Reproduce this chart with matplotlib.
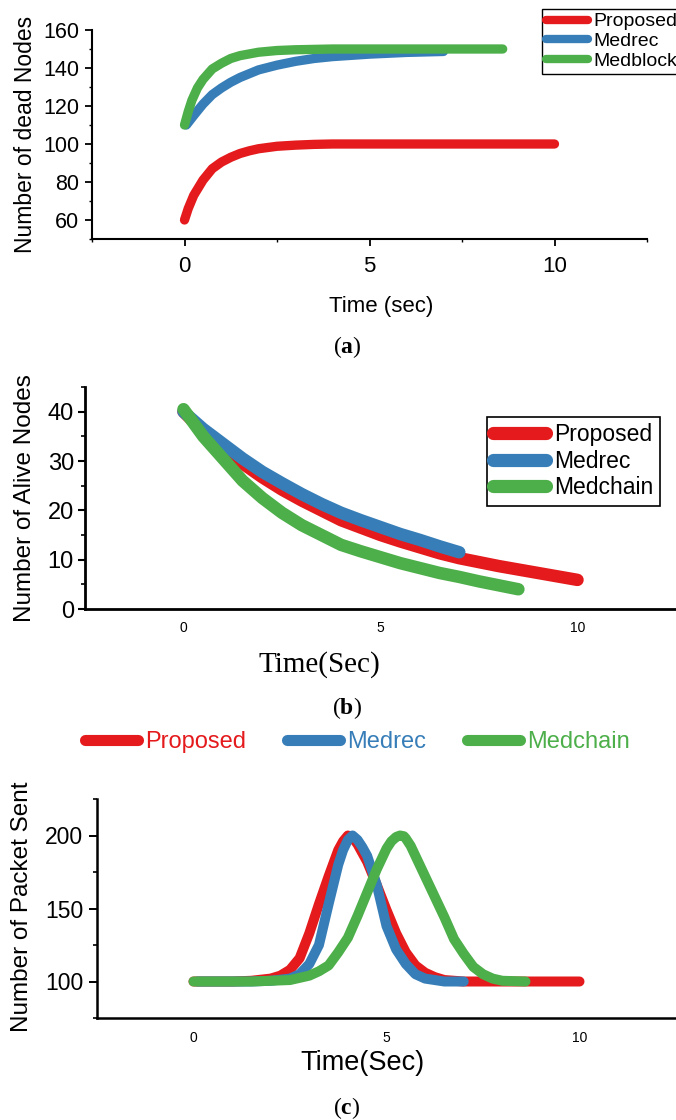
import matplotlib
matplotlib.use("Agg")
import matplotlib.pyplot as plt
from matplotlib.ticker import MultipleLocator, FixedLocator

plt.rcParams['font.family'] = ['Liberation Sans', 'DejaVu Sans']
plt.rcParams['mathtext.fontset'] = 'custom'
plt.rcParams['mathtext.rm'] = 'Liberation Serif'
plt.rcParams['mathtext.bf'] = 'Liberation Serif:bold'
plt.rcParams['lines.solid_capstyle'] = 'round'
plt.rcParams['lines.solid_joinstyle'] = 'round'

# ---------------- data ----------------
series_names = ['Proposed', 'Medrec']
name_a3 = 'Medblock'
name_bc3 = 'Medchain'
colors = ['#E41A1C', '#377EB8', '#4DAF4A']

# (a) Number of dead nodes
a_prop_t = [0, 0.1, 0.25, 0.5, 0.75, 1, 1.25, 1.5, 1.75, 2, 2.5, 3, 3.5, 4, 5, 6, 7, 8, 9, 10]
a_prop_v = [60, 66, 73, 81, 87, 90.5, 93, 95, 96.4, 97.5, 98.8, 99.4, 99.8, 100, 100, 100, 100, 100, 100, 100]
a_medrec_t = [0.05, 0.15, 0.25, 0.5, 0.75, 1, 1.25, 1.5, 2, 2.5, 3, 3.5, 4, 5, 6, 7]
a_medrec_v = [110, 112.5, 115, 121, 126, 129.5, 132.5, 135, 139, 141.5, 143.5, 145, 146, 147.3, 148.2, 148.7]
a_medblock_t = [0, 0.1, 0.2, 0.35, 0.5, 0.75, 1, 1.25, 1.5, 2, 2.5, 3, 4, 5, 6, 7, 8, 8.6]
a_medblock_v = [110, 117, 123, 129.5, 134, 139.5, 142.5, 145, 146.5, 148.3, 149.2, 149.6, 150, 150, 150, 150, 150, 150]

# (b) Number of alive nodes
b_prop_t = [0, 0.5, 1, 1.5, 2, 2.5, 3, 3.5, 4, 4.5, 5, 5.5, 6, 6.5, 7, 7.5, 8, 8.5, 9, 9.5, 10]
b_prop_v = [40, 36, 32.5, 29.5, 26.7, 24.2, 22, 20, 18, 16.5, 15, 13.7, 12.5, 11.3, 10.3, 9.5, 8.7, 8, 7.3, 6.6, 5.9]
b_medrec_t = [0, 0.5, 1, 1.5, 2, 2.5, 3, 3.5, 4, 4.5, 5, 5.5, 6, 6.5, 7]
b_medrec_v = [40, 36.5, 33.5, 30.5, 27.8, 25.5, 23.3, 21.3, 19.5, 18, 16.6, 15.2, 14, 12.7, 11.5]
b_medchain_t = [0, 0.5, 1, 1.5, 2, 2.5, 3, 3.5, 4, 4.5, 5, 5.5, 6, 6.5, 7, 7.5, 8, 8.5]
b_medchain_v = [40.5, 35, 30.5, 26, 22.5, 19.5, 17, 15, 13, 11.7, 10.5, 9.3, 8.3, 7.3, 6.5, 5.6, 4.8, 4]

# (c) Number of packets sent
c_prop_t = [0, 0.5, 1, 1.5, 2, 2.25, 2.5, 2.75, 3, 3.25, 3.5, 3.75, 3.875, 4.0, 4.125, 4.25, 4.5, 4.75, 5,
            5.25, 5.5, 5.75, 6, 6.25, 6.5, 7, 8, 9, 10]
c_prop_v = [100, 100, 100, 100.5, 102, 104, 108, 116, 133, 153, 172, 190, 196, 200, 198.5, 194, 182, 166, 149,
            133, 120, 111, 106, 103, 101, 100, 100, 100, 100]
c_medrec_t = [0.1, 0.5, 1, 1.5, 2, 2.5, 2.75, 3, 3.25, 3.5, 3.75, 3.875, 4, 4.12, 4.25, 4.375, 4.5, 4.75, 5,
              5.25, 5.5, 5.75, 6, 6.5, 7]
c_medrec_v = [100, 100, 100, 100, 100.5, 102, 105, 112, 125, 153, 180, 190, 197, 200, 197, 192, 186, 166, 138,
              122, 112, 105, 102, 100, 100]
c_medchain_t = [0, 0.5, 1, 1.5, 2, 2.5, 3, 3.25, 3.5, 3.75, 4, 4.25, 4.5, 4.75, 5, 5.125, 5.25, 5.35, 5.45,
                5.5, 5.625, 5.75, 6, 6.25, 6.5, 6.75, 7, 7.25, 7.5, 7.75, 8, 8.6]
c_medchain_v = [100, 100, 100, 100, 100.5, 101, 104, 107, 111, 120, 130, 145, 161, 177, 191, 196, 199, 200, 199.5,
                198, 193, 186, 172, 158, 144, 129, 119, 110, 105, 102, 100.5, 100]

x_ticks = [0, 5, 10]
x_ticklabels = ['0', '5', '10']
a_yticks = [60, 80, 100, 120, 140, 160]
b_yticks = [0, 10, 20, 30, 40]
c_yticks = [100, 150, 200]

# ---------------- figure ----------------
W, H = 676, 1120
fig = plt.figure(figsize=(W / 100, H / 100), dpi=100)


def ax_rect(left, top, right, bottom):
    return [left / W, 1 - bottom / H, (right - left) / W, (bottom - top) / H]


def style(ax, lw):
    for s in ['top', 'right']:
        ax.spines[s].set_visible(False)
    for s in ['left', 'bottom']:
        ax.spines[s].set_linewidth(lw)
    ax.set_facecolor('none')


# ---- (a)
ax = fig.add_axes(ax_rect(92, 30, 647, 239))
style(ax, 1.5)
lw = 6.7
ax.plot(a_prop_t, a_prop_v, color=colors[0], lw=lw, label=series_names[0])
ax.plot(a_medrec_t, a_medrec_v, color=colors[1], lw=lw, label=series_names[1])
ax.plot(a_medblock_t, a_medblock_v, color=colors[2], lw=lw, label=name_a3)
ax.set_xlim(-2.5, 12.5)
ax.set_ylim(50, 160)
ax.set_xticks(x_ticks)
ax.set_xticklabels(x_ticklabels)
ax.xaxis.set_minor_locator(FixedLocator([-2.5, 2.5, 7.5, 12.5]))
ax.set_yticks(a_yticks)
ax.yaxis.set_minor_locator(MultipleLocator(10))
ax.tick_params(axis='x', which='major', direction='out', length=5, width=1.3, labelsize=16, pad=7)
ax.tick_params(axis='y', which='major', direction='out', length=5, width=1.3, labelsize=15.5, pad=4)
ax.tick_params(which='minor', direction='out', length=2.5, width=1.0)
ax.set_ylabel('Number of dead Nodes', fontsize=16.5, ha='center', va='center')
ax.yaxis.set_label_coords(-0.119, 0.502)
ax.set_xlabel('Time (sec)', fontsize=16, ha='center', va='center')
ax.xaxis.set_label_coords(0.521, -0.325)
leg = ax.legend(loc='upper left', bbox_to_anchor=(542 / W, 1 - 9 / H), bbox_transform=fig.transFigure,
                fontsize=14, frameon=True, fancybox=False, edgecolor='black', framealpha=1,
                borderpad=0.2, handlelength=2.15, handletextpad=0.3, labelspacing=0.1,
                borderaxespad=0)
leg.get_frame().set_linewidth(1.0)
for h in leg.legend_handles:
    h.set_linewidth(6)

# ---- (b)
ax = fig.add_axes(ax_rect(85, 387, 676, 609))
style(ax, 2.0)
lw = 9
ax.plot(b_prop_t, b_prop_v, color=colors[0], lw=lw, label=series_names[0])
ax.plot(b_medrec_t, b_medrec_v, color=colors[1], lw=lw, label=series_names[1])
ax.plot(b_medchain_t, b_medchain_v, color=colors[2], lw=lw, label=name_bc3)
ax.set_xlim(-2.5, 12.5)
ax.set_ylim(0, 45)
ax.set_xticks(x_ticks)
ax.set_xticklabels(x_ticklabels)
ax.set_yticks(b_yticks)
ax.yaxis.set_minor_locator(MultipleLocator(5))
ax.tick_params(axis='x', which='major', length=0, labelsize=10, pad=9)
ax.tick_params(axis='y', which='major', direction='out', length=5, width=1.5, labelsize=17, pad=3)
ax.tick_params(axis='y', which='minor', direction='out', length=3, width=1.2)
ax.set_ylabel('Number of Alive Nodes', fontsize=17.5, ha='center', va='center')
ax.yaxis.set_label_coords(-0.1015, 0.5)
ax.set_xlabel('Time(Sec)', fontsize=21, family=['Liberation Serif', 'DejaVu Serif'],
              ha='center', va='center')
ax.xaxis.set_label_coords(0.396, -0.252)
leg = ax.legend(loc='upper left', bbox_to_anchor=(487 / W, 1 - 417 / H), bbox_transform=fig.transFigure,
                fontsize=16.5, frameon=True, fancybox=False, edgecolor='black', framealpha=1,
                borderpad=0.28, handlelength=2.3, handletextpad=0.35, labelspacing=0.15,
                borderaxespad=0)
leg.get_frame().set_linewidth(1.2)
for h in leg.legend_handles:
    h.set_linewidth(9.5)

# ---- (c)
ax = fig.add_axes(ax_rect(97, 799, 676, 1018))
style(ax, 1.8)
lw = 7.2
l1, = ax.plot(c_prop_t, c_prop_v, color=colors[0], lw=lw, label=series_names[0])
l2, = ax.plot(c_medrec_t, c_medrec_v, color=colors[1], lw=lw, label=series_names[1])
l3, = ax.plot(c_medchain_t, c_medchain_v, color=colors[2], lw=lw, label=name_bc3)
ax.set_xlim(-2.5, 12.5)
ax.set_ylim(75, 225)
ax.set_xticks(x_ticks)
ax.set_xticklabels(x_ticklabels)
ax.set_yticks(c_yticks)
ax.yaxis.set_minor_locator(MultipleLocator(25))
ax.tick_params(axis='x', which='major', length=0, labelsize=10, pad=9)
ax.tick_params(axis='y', which='major', direction='out', length=6, width=1.4, labelsize=16.5, pad=4)
ax.tick_params(axis='y', which='minor', direction='out', length=3, width=1.2)
ax.set_ylabel('Number of Packet Sent', fontsize=17.5, ha='center', va='center')
ax.yaxis.set_label_coords(-0.1295, 0.507)
ax.set_xlabel('Time(Sec)', fontsize=19.5, ha='center', va='center')
ax.xaxis.set_label_coords(0.459, -0.205)
leg = fig.legend(handles=[l1, l2, l3], loc='center', bbox_to_anchor=(357.5 / W, 1 - 742 / H),
                 ncol=3, frameon=False, fontsize=17, handlelength=2.25, handletextpad=0.28,
                 columnspacing=1.75, labelcolor='linecolor')
for h in leg.legend_handles:
    h.set_linewidth(8)

# captions
serif = ['Liberation Serif', 'DejaVu Serif']
fig.text(347 / W, 1 - 347 / H, r'($\mathbf{a}$)', fontsize=17, family=serif, ha='center', va='center')
fig.text(347 / W, 1 - 708 / H, r'($\mathbf{b}$)', fontsize=17, family=serif, ha='center', va='center')
fig.text(347 / W, 1 - 1108 / H, r'($\mathbf{c}$)', fontsize=17, family=serif, ha='center', va='center')

fig.savefig('out.png', dpi=100)
